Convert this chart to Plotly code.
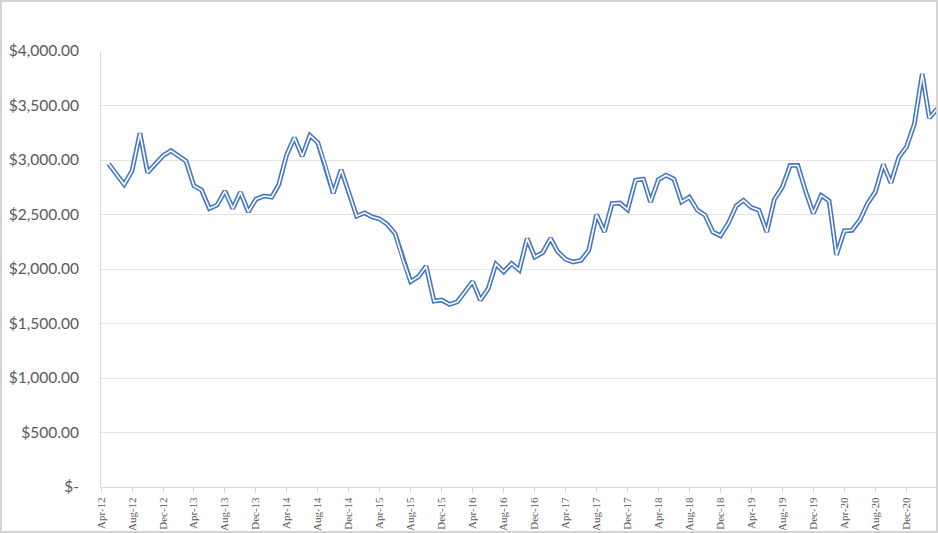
import pandas as pd
import plotly.graph_objects as go

# Monthly values, May-12 .. Apr-21
start_month = "2012-05-01"
prices = [
    2965, 2870, 2775, 2900, 3245, 2885, 2960, 3040, 3085, 3035, 2990, 2765,
    2725, 2555, 2585, 2715, 2555, 2705, 2525, 2640, 2670, 2660, 2775, 3050,
    3205, 3035, 3225, 3160, 2940, 2695, 2910, 2705, 2485, 2515, 2480, 2460,
    2410, 2325, 2090, 1885, 1930, 2025, 1705, 1715, 1675, 1700, 1790, 1885,
    1715, 1820, 2045, 1975, 2050, 1990, 2280, 2110, 2150, 2280, 2160, 2090,
    2065, 2080, 2170, 2500, 2340, 2600, 2605, 2545, 2815, 2825, 2615, 2820,
    2860, 2825, 2615, 2660, 2540, 2495, 2340, 2305, 2420, 2580, 2630, 2565,
    2540, 2340, 2640, 2750, 2950, 2950, 2710, 2510, 2675, 2625, 2130, 2350,
    2355, 2450, 2600, 2710, 2960, 2790, 3025, 3120, 3330, 3790, 3385, 3470,
]
months = pd.date_range(start_month, periods=len(prices), freq="MS")

y_ticks = [0, 500, 1000, 1500, 2000, 2500, 3000, 3500, 4000]
y_labels = ["$-", "$500.00", "$1,000.00", "$1,500.00", "$2,000.00",
            "$2,500.00", "$3,000.00", "$3,500.00", "$4,000.00"]

BLUE = "#4677c2"
GRID = "#e3e3e3"
TEXT = "#595959"

fig = go.Figure()

# Excel-style double line: thick blue stroke with a thin white core
fig.add_trace(go.Scatter(x=months, y=prices, mode="lines",
                         line=dict(color=BLUE, width=4.8), hoverinfo="skip"))
fig.add_trace(go.Scatter(x=months, y=prices, mode="lines",
                         line=dict(color="white", width=1.6), hoverinfo="skip"))

fig.update_layout(
    width=938, height=533,
    margin=dict(l=101, r=0, t=51, b=46, autoexpand=False),
    showlegend=False,
    plot_bgcolor="white",
    paper_bgcolor="white",
    shapes=[dict(type="rect", xref="paper", yref="paper",
                 x0=-101 / 837, x1=1.0, y0=-46 / 436, y1=1 + 51 / 436,
                 line=dict(color="#d4d4d4", width=4), layer="above")],
)

fig.update_xaxes(
    type="date",
    range=["2012-04-01", "2021-04-04"],
    tick0="2012-04-01", dtick="M4", tickformat="%b-%y",
    tickangle=-90,
    tickfont=dict(family="Liberation Serif", size=11, color=TEXT),
    ticks="outside", ticklen=5, tickcolor="#d9d9d9",
    showgrid=False,
    showline=True, linecolor="#d9d9d9", linewidth=1,
    zeroline=False,
    automargin=False,
)

fig.update_yaxes(
    range=[0, 4000],
    tickvals=y_ticks, ticktext=y_labels,
    tickfont=dict(family="Lato", size=15.5, color=TEXT),
    ticklabelstandoff=18,
    showgrid=True, gridcolor=GRID, gridwidth=1,
    showline=True, linecolor="#d9d9d9", linewidth=1,
    zeroline=False,
    automargin=False,
)

# drop the browser's default 8px body margin so the figure fills the window
fig.write_html("out.html", config={"displayModeBar": False},
               post_script="document.body.style.margin = '0';")
